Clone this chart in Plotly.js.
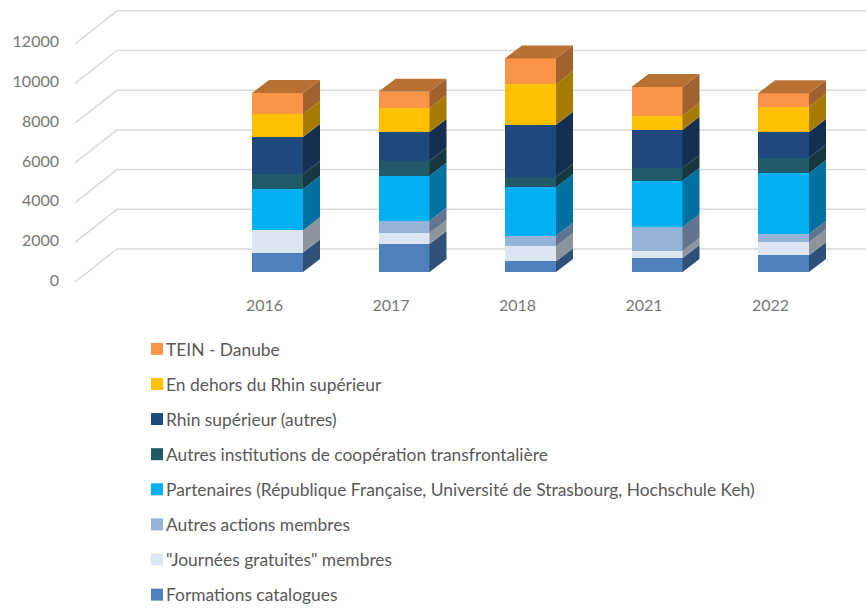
<!DOCTYPE html>
<html><head><meta charset="utf-8">
<script src="https://cdn.plot.ly/plotly-3.0.0.min.js"></script>
<style>html,body{margin:0;padding:0;background:#fff}#c{width:866px;height:608px}</style>
</head><body><div id="c"></div>
<script>
const years = ['2016','2017','2018','2021','2022'];
const seriesNames = ['Formations catalogues','"Journées gratuites" membres','Autres actions membres',
  'Partenaires (République Française, Université de Strasbourg, Hochschule Keh)',
  'Autres institutions de coopération transfrontalière','Rhin supérieur (autres)',
  'En dehors du Rhin supérieur','TEIN - Danube'];
const catalogues   = [977,1410,537,705,840];
const journees     = [1123,554,756,353,655];
const actions      = [0,621,537,1192,420];
const partenaires  = [2081,2267,2435,2351,3056];
const institutions = [741,756,537,638,789];
const rhin         = [1879,1444,2619,1931,1293];
const dehors       = [1159,1192,2048,705,1276];
const tein         = [1058,840,1293,1444,672];
const seriesValues = [catalogues,journees,actions,partenaires,institutions,rhin,dehors,tein];
const frontColors = ['#4e80bd','#dce6f2','#95b3d7','#00b0f0','#215967','#1f497d','#ffc000','#fa9548'];
const sideColors  = ['#2f5079','#8c949e','#62748f','#0071a0','#153841','#142f51','#a67c00','#a1622d'];
const topColor = '#b97033';
const yTicks = [0,2000,4000,6000,8000,10000,12000];

// axis scales (pixels per unit) used to express the pseudo-3D depth
const W = 800, H = 300;
const xRange = [-1.672, 4.652], yRange = [-1411, 13703];
const pxX = W/(xRange[1]-xRange[0]), pxY = H/(yRange[1]-yRange[0]);
const barW = 51/pxX, depthX = 17/pxX, depthY = 13/pxY;

const idx = years.map((_,i)=>i);
const traces = [];
seriesNames.forEach((n,s)=>{
  traces.push({type:'bar',name:n,x:idx,y:seriesValues[s],width:barW,
    marker:{color:frontColors[s],line:{width:0}},legendgroup:'g'+s,legendrank:100-s,hoverinfo:'name+y'});
});
// side and top faces follow the stacked values
idx.forEach(i=>{
  let base = 0;
  const r = i+barW/2, l = i-barW/2;
  seriesValues.forEach((vals,s)=>{
    const t = base+vals[i];
    if(vals[i]>0) traces.push({type:'scatter',mode:'lines',fill:'toself',fillcolor:sideColors[s],
      line:{width:0},showlegend:false,hoverinfo:'skip',
      x:[r,r+depthX,r+depthX,r,r],y:[base,base+depthY,t+depthY,t,base]});
    base = t;
  });
  traces.push({type:'scatter',mode:'lines',fill:'toself',fillcolor:topColor,line:{width:0},
    showlegend:false,hoverinfo:'skip',
    x:[l,r,r+depthX,l+depthX,l],y:[base,base,base+depthY,base+depthY,base]});
});

// slanted floor/wall gridlines derived from the value ticks
const frontX = xRange[0]+9/pxX, backX = xRange[0]+51/pxX;
const frontOff = -10/pxY, backOff = 23/pxY;
const gridShapes = [];
yTicks.forEach(v=>{
  const style = {color:'#d9d9d9',width:1.5};
  gridShapes.push({type:'line',layer:'below',xref:'x',yref:'y',x0:frontX,x1:backX,y0:v+frontOff,y1:v+backOff,line:style});
  gridShapes.push({type:'line',layer:'below',xref:'x',yref:'y',x0:backX,x1:xRange[1],y0:v+backOff,y1:v+backOff,line:style});
});

const layout = {
  width:866,height:608,margin:{l:66,r:0,t:0,b:308,pad:0,autoexpand:false},
  paper_bgcolor:'#fff',plot_bgcolor:'rgba(0,0,0,0)',
  barmode:'stack',showlegend:true,shapes:gridShapes,
  font:{family:'Lato, Carlito, sans-serif',color:'#777777',size:16},
  xaxis:{range:xRange,tickmode:'array',tickvals:idx,ticktext:years,showgrid:false,zeroline:false,
    showline:false,ticks:'',ticklabelshift:-13,ticklabelstandoff:-6,tickfont:{size:16,color:'#777777'},fixedrange:true},
  yaxis:{range:yRange,tickmode:'array',tickvals:yTicks,ticktext:yTicks.map(String),showgrid:false,zeroline:false,
    showline:false,ticks:'',ticklabelshift:8,ticklabelstandoff:6,tickfont:{size:16,color:'#777777'},fixedrange:true},
  legend:{x:(137-66)/W,xanchor:'left',y:(H-331)/H,yanchor:'top',traceorder:'grouped',tracegroupgap:9.5,
    font:{size:17.4,color:'#595959'},bgcolor:'rgba(0,0,0,0)'}
};
Plotly.newPlot('c',traces,layout,{displayModeBar:false,staticPlot:true}).then(()=>{
  // tighten the gap between swatch and label as in the reference
  document.querySelectorAll('.legendtext').forEach(t=>{t.setAttribute('x','29');});
});
</script>
</body></html>
